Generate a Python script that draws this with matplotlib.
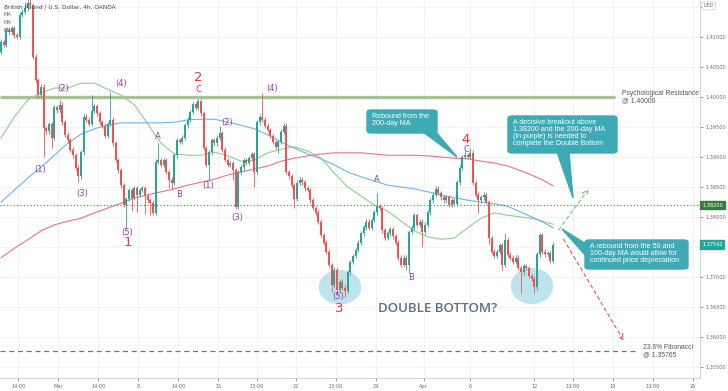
import matplotlib
matplotlib.use("Agg")
import matplotlib.pyplot as plt
from matplotlib.patches import Ellipse, FancyBboxPatch, Polygon

# GBP/USD 4h candles (bar 0 = first visible candle)
first_open = 1.4075
closes = [
    1.4092, 1.4087, 1.4112, 1.4108, 1.4115, 1.4103, 1.4100, 1.4137, 1.4142, 1.4148,
    1.4157, 1.4153, 1.4067, 1.4028, 1.4003, 1.4017, 1.3948, 1.3943, 1.3955, 1.3932,
    1.3983, 1.3978, 1.3987, 1.3958, 1.3937, 1.3928, 1.3912, 1.3903, 1.3882, 1.3868,
    1.3908, 1.3967, 1.3962, 1.3955, 1.3977, 1.3985, 1.3973, 1.3958, 1.3952, 1.3935,
    1.3955, 1.3962, 1.3923, 1.3895, 1.3878, 1.3853, 1.3820, 1.3830, 1.3845, 1.3832,
    1.3848, 1.3837, 1.3845, 1.3848, 1.3835, 1.3828, 1.3823, 1.3807, 1.3892, 1.3895,
    1.3887, 1.3895, 1.3875, 1.3862, 1.3857, 1.3903, 1.3928, 1.3925, 1.3932, 1.3953,
    1.3962, 1.3975, 1.3988, 1.3982, 1.3993, 1.3973, 1.3915, 1.3887, 1.3908, 1.3928,
    1.3923, 1.3932, 1.3940, 1.3912, 1.3895, 1.3887, 1.3890, 1.3878, 1.3817, 1.3875,
    1.3883, 1.3895, 1.3890, 1.3898, 1.3905, 1.3875, 1.3958, 1.3967, 1.3962, 1.3952,
    1.3945, 1.3935, 1.3925, 1.3917, 1.3925, 1.3942, 1.3952, 1.3875, 1.3868, 1.3853,
    1.3830, 1.3857, 1.3862, 1.3858, 1.3848, 1.3845, 1.3828, 1.3815, 1.3807, 1.3792,
    1.3770, 1.3757, 1.3742, 1.3720, 1.3687, 1.3712, 1.3678, 1.3692, 1.3682, 1.3677,
    1.3708, 1.3725, 1.3735, 1.3745, 1.3757, 1.3773, 1.3783, 1.3792, 1.3782, 1.3795,
    1.3808, 1.3818, 1.3815, 1.3778, 1.3765, 1.3773, 1.3780, 1.3768, 1.3757, 1.3732,
    1.3720, 1.3732, 1.3720, 1.3775, 1.3782, 1.3803, 1.3787, 1.3792, 1.3775, 1.3787,
    1.3808, 1.3828, 1.3837, 1.3847, 1.3840, 1.3833, 1.3828, 1.3833, 1.3820, 1.3828,
    1.3822, 1.3858, 1.3882, 1.3900, 1.3903, 1.3900, 1.3907, 1.3857, 1.3837, 1.3828,
    1.3833, 1.3837, 1.3825, 1.3765, 1.3742, 1.3735, 1.3742, 1.3753, 1.3720, 1.3762,
    1.3737, 1.3732, 1.3725, 1.3732, 1.3715, 1.3708, 1.3718, 1.3715, 1.3702, 1.3697,
    1.3683, 1.3738, 1.3770, 1.3742, 1.3738, 1.3740, 1.3727, 1.3754,
]
typical_wick = 0.0004
long_highs = {
    9: 1.4158, 10: 1.4165, 11: 1.4168, 22: 1.3995, 34: 1.4003, 41: 1.4008,
    59: 1.3923, 74: 1.3997, 82: 1.3952, 98: 1.4007, 106: 1.3957, 141: 1.3840,
    174: 1.3910, 176: 1.3915, 189: 1.3773, 202: 1.3773,
}
long_lows = {
    16: 1.3900, 19: 1.3915, 29: 1.3858, 47: 1.3782, 49: 1.3810, 51: 1.3808,
    54: 1.3805, 56: 1.3803, 63: 1.3848, 64: 1.3845, 78: 1.3862, 87: 1.3862,
    95: 1.3850, 104: 1.3907, 110: 1.3815, 124: 1.3675, 126: 1.3670, 129: 1.3667,
    152: 1.3712, 153: 1.3707, 158: 1.3750, 179: 1.3807, 183: 1.3755, 188: 1.3712,
    195: 1.3673, 200: 1.3673,
}

# moving averages, sampled every 5 bars
ma_bars = [0, 5, 10, 15, 20, 25, 30, 35, 40, 45, 50, 55, 60, 65, 70, 75, 80, 85, 90,
           95, 100, 105, 110, 115, 120, 125, 130, 135, 140, 145, 150, 155, 160, 165,
           170, 175, 180, 185, 190, 195, 200, 203, 207]
ma50 = [1.3932, 1.3967, 1.3995, 1.4007, 1.4015, 1.4015, 1.4023, 1.4023, 1.4013, 1.4003,
        1.3987, 1.3955, 1.3923, 1.3905, 1.3903, 1.3903, 1.3908, 1.3902, 1.3893, 1.3895,
        1.3907, 1.3913, 1.3917, 1.3910, 1.3898, 1.3873, 1.3850, 1.3835, 1.3820, 1.3810,
        1.3793, 1.3777, 1.3767, 1.3763, 1.3765, 1.3782, 1.3798, 1.3807, 1.3803, 1.3800,
        1.3797, 1.3793, 1.3788]
ma100 = [1.3825, 1.3845, 1.3865, 1.3883, 1.3903, 1.3923, 1.3938, 1.3947, 1.3953, 1.3957,
         1.3957, 1.3957, 1.3957, 1.3958, 1.3962, 1.3963, 1.3963, 1.3958, 1.3953, 1.3947,
         1.3937, 1.3925, 1.3915, 1.3905, 1.3897, 1.3887, 1.3875, 1.3867, 1.3860, 1.3853,
         1.3850, 1.3847, 1.3842, 1.3837, 1.3832, 1.3828, 1.3825, 1.3822, 1.3818, 1.3808,
         1.3798, 1.3792, 1.3782]
ma200 = [1.3732, 1.3748, 1.3762, 1.3777, 1.3787, 1.3793, 1.3798, 1.3807, 1.3815, 1.3823,
         1.3832, 1.3837, 1.3842, 1.3847, 1.3853, 1.3858, 1.3863, 1.3870, 1.3875, 1.3880,
         1.3885, 1.3893, 1.3898, 1.3902, 1.3905, 1.3907, 1.3907, 1.3907, 1.3905, 1.3903,
         1.3903, 1.3903, 1.3902, 1.3900, 1.3898, 1.3897, 1.3893, 1.3890, 1.3885, 1.3877,
         1.3868, 1.3862, 1.3852]

resistance = 1.40000
neckline = 1.38200
fib_level = 1.35765
last_price = 1.37542

date_ticks = [6.5, 21.5, 36.5, 51.5, 66.5, 81.5, 96, 110.5, 125.5, 140.5, 158.5,
              176, 200, 214.5, 229.5, 244.5, 259.5]
date_labels = ["14:00", "Mar", "14:00", "8", "14:00", "15", "13:00", "22", "13:00",
               "29", "Apr", "6", "12", "13:00", "19", "13:00", "26"]
price_ticks = [1.355, 1.360, 1.365, 1.370, 1.375, 1.380, 1.385, 1.390, 1.395,
               1.400, 1.405, 1.410, 1.415]
# 1.37500 and 1.41500 sit under the price tag and the currency box
price_labels = ["1.35500", "1.36000", "1.36500", "1.37000", "", "1.38000", "1.38500",
                "1.39000", "1.39500", "1.40000", "1.40500", "1.41000", ""]

# wave labels: (text, bar, price, colour kind)
wave_labels = [
    ("(1)", 14.6, 1.3880, "p"), ("(2)", 23.3, 1.4015, "p"), ("(3)", 30.4, 1.3840, "p"),
    ("(4)", 45.0, 1.4023, "p"), ("(5)", 47.3, 1.3775, "p"), ("1", 47.6, 1.3757, "r"),
    ("A", 58.6, 1.3935, "p"), ("B", 66.7, 1.3838, "p"), ("C", 74.2, 1.4013, "p"),
    ("2", 73.8, 1.4033, "r"), ("(1)", 77.6, 1.3853, "p"), ("(2)", 84.7, 1.3957, "p"),
    ("(3)", 88.6, 1.3800, "p"), ("(4)", 101.6, 1.4015, "p"), ("A", 141.0, 1.3862, "p"),
    ("(5)", 126.4, 1.3668, "p"), ("3", 126.7, 1.3648, "r"), ("B", 153.7, 1.3700, "p"),
    ("C", 174.4, 1.3912, "p"), ("4", 174.0, 1.3930, "r"),
]

UP, DOWN = "#26a69a", "#ef5350"
NOTE_FONT = ["Liberation Sans", "DejaVu Sans"]

fig = plt.figure(figsize=(7.28, 3.91), dpi=100)
ax = fig.add_axes([0, 13 / 391, 700 / 728, 378 / 391])
ax.set_xlim(-0.4, 262.1)
ax.set_ylim(1.35317, 1.41617)

for t in date_ticks:
    ax.axvline(t, color="#f0f2f6", lw=0.8, zorder=0)
for p in price_ticks:
    ax.axhline(p, color="#f0f2f6", lw=0.8, zorder=0)

ax.add_patch(Ellipse((127.1, 1.3683), 15.4, 0.0055, color="#bde3ed", zorder=1))
ax.add_patch(Ellipse((199.1, 1.3685), 15.4, 0.0058, color="#bde3ed", zorder=1))

# candles
opens = [first_open] + closes[:-1]
for i, (o, c) in enumerate(zip(opens, closes)):
    col = UP if c >= o else DOWN
    hi = long_highs.get(i, max(o, c) + typical_wick)
    lo = long_lows.get(i, min(o, c) - typical_wick)
    ax.vlines(i, lo, hi, color=col, lw=0.6, zorder=3)
    ax.bar(i, max(abs(c - o), 0.00012), bottom=min(o, c), width=0.7, color=col,
           lw=0, zorder=4)

ax.plot(ma_bars, ma50, color="#8fcf8c", lw=0.8, zorder=2)
ax.plot(ma_bars, ma100, color="#6cb4ec", lw=0.8, zorder=2)
ax.plot(ma_bars, ma200, color="#ef6f8e", lw=0.8, zorder=2)

ax.hlines(resistance, -0.4, 230.2, color="#a7c293", lw=2.4, zorder=2)
ax.axhline(neckline, color="#3a7d3a", lw=0.8, ls=(0, (1, 2)), zorder=2)
ax.hlines(fib_level, -0.4, 238.5, color="#6f7480", lw=0.9, ls=(0, (4, 3)), zorder=2)

ax.annotate("", xy=(220.9, 1.3850), xytext=(208.5, 1.3775),
            arrowprops=dict(arrowstyle="->", color="#76c27a", lw=0.8, ls=(0, (3, 3))))
ax.annotate("", xy=(234.0, 1.3590), xytext=(210.4, 1.3767),
            arrowprops=dict(arrowstyle="->", color="#ef5350", lw=0.8, ls=(0, (3, 3))))

for txt, bx, py, kind in wave_labels:
    if kind == "p":
        ax.text(bx, py, txt, color="#9c36b5", fontsize=6, ha="center", va="center", zorder=6)
    else:
        ax.text(bx, py, txt, color="#f0353d", fontsize=9.5, ha="center", va="center",
                zorder=6)

ax.text(163.7, 1.36483, "DOUBLE BOTTOM?", family="Open Sans", fontsize=9.5,
        fontweight="semibold", color="#5e6e7e", ha="center", va="center")

ax.text(232.8, 1.40000, "Psychological Resistance\n@ 1.40000", family=NOTE_FONT,
        fontsize=4.9, color="#4d5661", va="center", linespacing=0.95)
ax.text(240.7, 1.35765, "23.6% Fibonacci\n@ 1.35765", family=NOTE_FONT,
        fontsize=4.9, color="#4d5661", va="center", linespacing=0.95)

ax.set_xticks(date_ticks)
ax.set_xticklabels(date_labels)
ax.set_yticks(price_ticks)
ax.set_yticklabels(price_labels)
ax.yaxis.tick_right()
ax.tick_params(axis="both", labelsize=3.6, colors="#6a6d78", length=2, width=0.5, pad=2)
for s in ["top", "left"]:
    ax.spines[s].set_visible(False)
for s in ["bottom", "right"]:
    ax.spines[s].set_color("#c9ccd3")
    ax.spines[s].set_linewidth(0.6)


def px(x, y):
    return x / 728, 1 - y / 391


# callouts drawn in pixel space of the figure
def callout(box, tail, text):
    x0, y0, x1, y1 = box
    fx0, fy1 = px(x0, y1)
    fx1, fy0 = px(x1, y0)
    fig.patches.append(FancyBboxPatch((fx0, fy1), fx1 - fx0, fy0 - fy1,
                                      boxstyle="round,pad=0,rounding_size=0.006",
                                      transform=fig.transFigure, color="#3eaab5", zorder=7))
    fig.patches.append(Polygon([px(*p) for p in tail], closed=True,
                               transform=fig.transFigure, color="#3eaab5", zorder=7))
    fig.text(*px(x0 + 5, y0 + 3), text, color="white", family=NOTE_FONT, fontsize=5.1,
             va="top", linespacing=1.02, zorder=8)


callout((367, 110, 437, 133), [(423, 132), (436, 132), (457, 157)],
        "Rebound from the\n200-day MA")
callout((508, 116, 617, 153), [(557, 152), (569, 152), (573, 198)],
        "A decisive breakout above\n1.38200 and the 200-day MA\n(in purple) is needed to\n"
        "complete the Double Bottom")
callout((585, 240, 688, 269), [(586, 244), (586, 256), (562, 229)],
        "A rebound from the 50 and\n100-day MA would allow for\ncontinued price depreciation")

# price tags on the right axis
for val, col in [(neckline, "#3b7a3b"), (last_price, "#26a69a")]:
    ax.text(1.003, val, "%.5f" % val, transform=ax.get_yaxis_transform(), fontsize=3.6,
            color="white", va="center", ha="left",
            bbox=dict(boxstyle="square,pad=0.35", fc=col, ec=col))
ax.text(1.005, 1.4152, "USD", transform=ax.get_yaxis_transform(), fontsize=3.6,
        color="#6a6d78", va="center", ha="left",
        bbox=dict(boxstyle="round,pad=0.3", fc="white", ec="#c9ccd3", lw=0.5))

fig.text(*px(4, 7), "British Pound / U.S. Dollar, 4h, OANDA", fontsize=4.2,
         color="#434651", va="center")
for k in range(3):
    fig.text(*px(4, 15 + 8 * k), "MA", fontsize=3.8, color="#6a6d78", va="center")

fig.savefig("out.png", dpi=100)
